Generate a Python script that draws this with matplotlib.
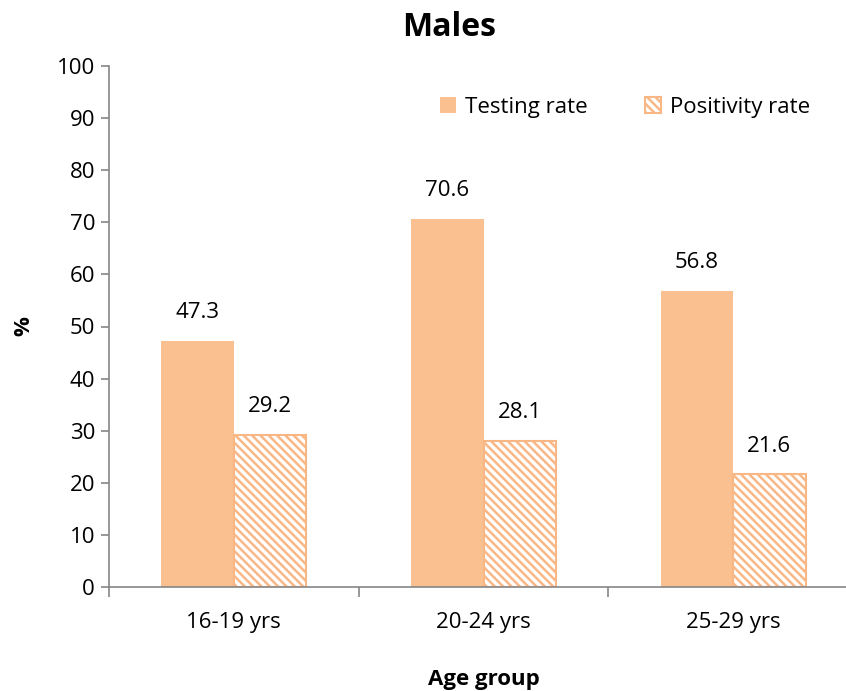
import matplotlib
matplotlib.use("Agg")
import matplotlib.pyplot as plt
import numpy as np

plt.rcParams['font.family'] = ['Open Sans', 'DejaVu Sans']
plt.rcParams['hatch.linewidth'] = 1.8
plt.rcParams['hatch.color'] = '#FAC090'

categories = ["16-19 yrs", "20-24 yrs", "25-29 yrs"]
testing_rate = [47.3, 70.6, 56.8]
positivity_rate = [29.2, 28.1, 21.6]
y_ticks = [0, 10, 20, 30, 40, 50, 60, 70, 80, 90, 100]

fill_color = '#FAC090'
edge_color = '#F9B785'
axis_color = '#868686'
fs = 16

fig = plt.figure(figsize=(8.46, 6.91), dpi=100)
ax = fig.add_axes([109 / 846, 104 / 691, (858 - 109) / 846, 521 / 691])

x = np.arange(len(categories))
w = 0.29
ax.bar(x - w, testing_rate, width=w, align='edge', color=fill_color,
       edgecolor='none', label='Testing rate')
ax.bar(x, positivity_rate, width=w, align='edge', color='white',
       edgecolor=edge_color, linewidth=1.5, hatch='\\\\\\\\',
       label='Positivity rate')

for xi, v in zip(x - w / 2, testing_rate):
    ax.text(xi, v + 3.4, f"{v:.1f}", ha='center', va='bottom', fontsize=fs)
for xi, v in zip(x + w / 2, positivity_rate):
    ax.text(xi, v + 3.4, f"{v:.1f}", ha='center', va='bottom', fontsize=fs)

ax.set_xlim(-0.5, 2.5)
ax.set_ylim(0, 100)
ax.set_yticks(y_ticks)
ax.tick_params(axis='y', labelsize=fs, length=6, width=1.2, color=axis_color, pad=4)

ax.set_xticks([-0.5, 0.5, 1.5, 2.5])
ax.set_xticklabels([])
ax.tick_params(axis='x', which='major', length=7, width=1.2, color=axis_color)
ax.set_xticks(x, minor=True)
ax.set_xticklabels(categories, minor=True)
ax.tick_params(axis='x', which='minor', length=0, labelsize=fs, pad=18)

for s in ['top', 'right']:
    ax.spines[s].set_visible(False)
for s in ['left', 'bottom']:
    ax.spines[s].set_color(axis_color)
    ax.spines[s].set_linewidth(1.2)

ax.set_ylabel('%', fontsize=fs, fontweight='bold', labelpad=16)
ax.set_xlabel('Age group', fontsize=fs, fontweight='bold', labelpad=26)
fig.text(449 / 846, 1 - 28 / 691, 'Males', ha='center', va='center',
         fontsize=23, fontweight='bold')

ax.legend(ncol=2, frameon=False, fontsize=fs, loc='center',
          bbox_to_anchor=((625 - 109) / 749, (691 - 107 - 104) / 521),
          handlelength=0.7, handleheight=0.7, handletextpad=0.4,
          columnspacing=2.6)

fig.savefig('out.png', dpi=100)
